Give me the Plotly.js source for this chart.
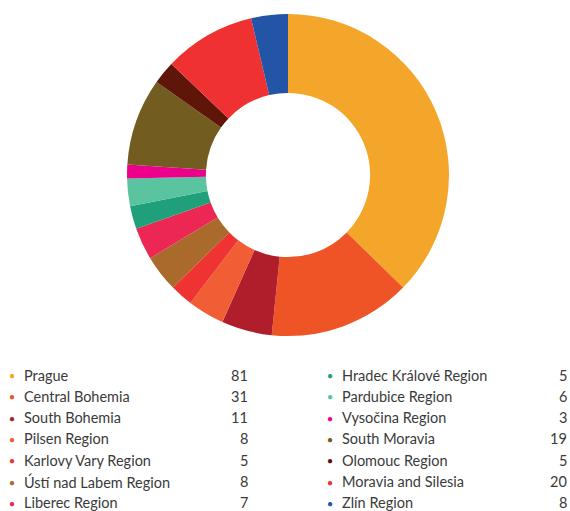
<!DOCTYPE html>
<html><head><meta charset="utf-8">
<script src="https://cdn.plot.ly/plotly-3.0.1.min.js"></script>
<style>html,body{margin:0;padding:0;background:#fff}#c{width:570px;height:511px}</style>
</head><body><div id="c"></div>
<script>
const regions = ["Prague","Central Bohemia","South Bohemia","Pilsen Region","Karlovy Vary Region","Ústí nad Labem Region","Liberec Region","Hradec Králové Region","Pardubice Region","Vysočina Region","South Moravia","Olomouc Region","Moravia and Silesia","Zlín Region"];
const counts = [81,31,11,8,5,8,7,5,6,3,19,5,20,8];
const colors = ["#F4A62A","#EE5426","#B01E2B","#F15D34","#EF3232","#AA6A2C","#ED2753","#1FA07A","#5AC3A0","#EC008C","#735C20","#601509","#EF3132","#2355A6"];

const W = 570, H = 511;
const trace = {
  type: 'pie', labels: regions, values: counts, hole: 0.51, sort: false,
  direction: 'clockwise', rotation: 0,
  marker: {colors: colors, line: {width: 0}},
  textinfo: 'none', hoverinfo: 'label+value', showlegend: false,
  domain: {x: [127/W, 449/W], y: [1-336/H, 1-14/H]}
};
const ann = [];
const font = {family: 'Lato, "Open Sans", sans-serif', size: 14.5, color: '#3a3a3a'};
regions.forEach((r, i) => {
  const col = i < 7 ? 0 : 1;
  const row = i % 7;
  const y = 1 - (375 + row * 21.3) / H;
  const dotX = col ? 330 : 12;
  const txtX = col ? 340 : 22;
  const valX = col ? 569 : 250;
  ann.push({xref:'paper', yref:'paper', x: dotX/W, y: y, text:'●', showarrow:false, xanchor:'center', yanchor:'middle', font:{size:10, color: colors[i]}});
  ann.push({xref:'paper', yref:'paper', x: txtX/W, y: y, text: r, showarrow:false, xanchor:'left', yanchor:'middle', font: font});
  ann.push({xref:'paper', yref:'paper', x: valX/W, y: y, text: String(counts[i]), showarrow:false, xanchor:'right', yanchor:'middle', font: font});
});
const layout = {
  width: W, height: H, margin: {l:0, r:0, t:0, b:0},
  paper_bgcolor: '#fff', showlegend: false, annotations: ann
};
Plotly.newPlot('c', [trace], layout, {displayModeBar: false, staticPlot: true});
</script></body></html>
